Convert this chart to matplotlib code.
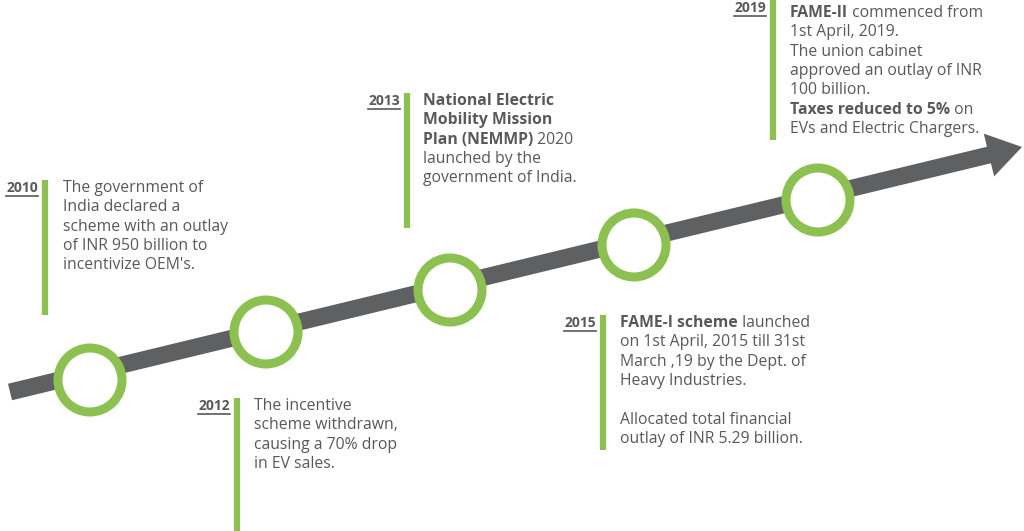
import matplotlib.pyplot as plt
from matplotlib.patches import Circle, FancyArrow

years = ["2010", "2012", "2013", "2015", "2019"]
# each description: list of lines, each line a list of (text, bold) runs
texts = [
    [[("The government of", False)], [("India declared a", False)],
     [("scheme with an outlay", False)], [("of INR 950 billion to", False)],
     [("incentivize OEM's.", False)]],
    [[("The incentive", False)], [("scheme withdrawn,", False)],
     [("causing a 70% drop", False)], [("in EV sales.", False)]],
    [[("National Electric", True)], [("Mobility Mission", True)],
     [("Plan (NEMMP)", True), (" 2020", False)], [("launched by the", False)],
     [("government of India.", False)]],
    [[("FAME-I scheme", True), (" launched", False)],
     [("on 1st April, 2015 till 31st", False)],
     [("March ,19 by the Dept. of", False)], [("Heavy Industries.", False)],
     [("", False)], [("Allocated total financial", False)],
     [("outlay of INR 5.29 billion.", False)]],
    [[("FAME-II", True), (" commenced from", False)], [("1st April, 2019.", False)],
     [("The union cabinet", False)], [("approved an outlay of INR", False)],
     [("100 billion.", False)], [("Taxes reduced to 5%", True), (" on", False)],
     [("EVs and Electric Chargers.", False)]],
]

# layout (pixels)
circle_xy = [(90, 380), (266, 332), (450, 290), (634, 245), (818, 200)]
bar_x = [45, 237, 407, 603, 773]
bar_y = [(180, 315), (398, 531), (93, 228), (315, 450), (0, 140)]
text_xy = [(63, 180), (254, 398), (423, 93), (620, 315), (790, 5)]

GREEN = "#8cc152"
GREY = "#58595b"
DARK = "#5f6062"

fig = plt.figure(figsize=(10.24, 5.31), dpi=100)
ax = fig.add_axes([0, 0, 1, 1])
ax.set_xlim(0, 1024)
ax.set_ylim(531, 0)
ax.axis("off")

# timeline arrow
x0, y0, x1, y1 = 10, 392, 1022, 147
ax.add_patch(FancyArrow(x0, y0, x1 - x0, y1 - y0, width=17, head_width=44,
                        head_length=34, length_includes_head=True,
                        color=DARK, lw=0, zorder=1))

for (cx, cy) in circle_xy:
    ax.add_patch(Circle((cx, cy), 32, facecolor="white", edgecolor=GREEN,
                        lw=6.5, zorder=2))

fig.canvas.draw()
renderer = fig.canvas.get_renderer()
fs = 11.3
lh = 19.3

for yr, lines, bx, (by0, by1), (tx, ty) in zip(years, texts, bar_x, bar_y, text_xy):
    ax.plot([bx, bx], [by0, by1], color=GREEN, lw=4.5, solid_capstyle="butt")
    t = ax.text(bx - 7, by0 + 1, yr, ha="right", va="top", fontsize=10,
                fontweight="bold", color=GREY, family="Open Sans")
    bb = t.get_window_extent(renderer)
    ax.plot([bx - 7 - bb.width, bx - 7], [by0 + 16, by0 + 16], color=GREY, lw=1.2)
    for i, line in enumerate(lines):
        x = tx
        y = ty + i * lh
        for s, bold in line:
            if not s:
                continue
            tt = ax.text(x, y, s, ha="left", va="top", fontsize=fs, color=GREY,
                         family="Open Sans",
                         fontweight="bold" if bold else "normal")
            x += tt.get_window_extent(renderer).width

fig.savefig("out.png", dpi=100)
